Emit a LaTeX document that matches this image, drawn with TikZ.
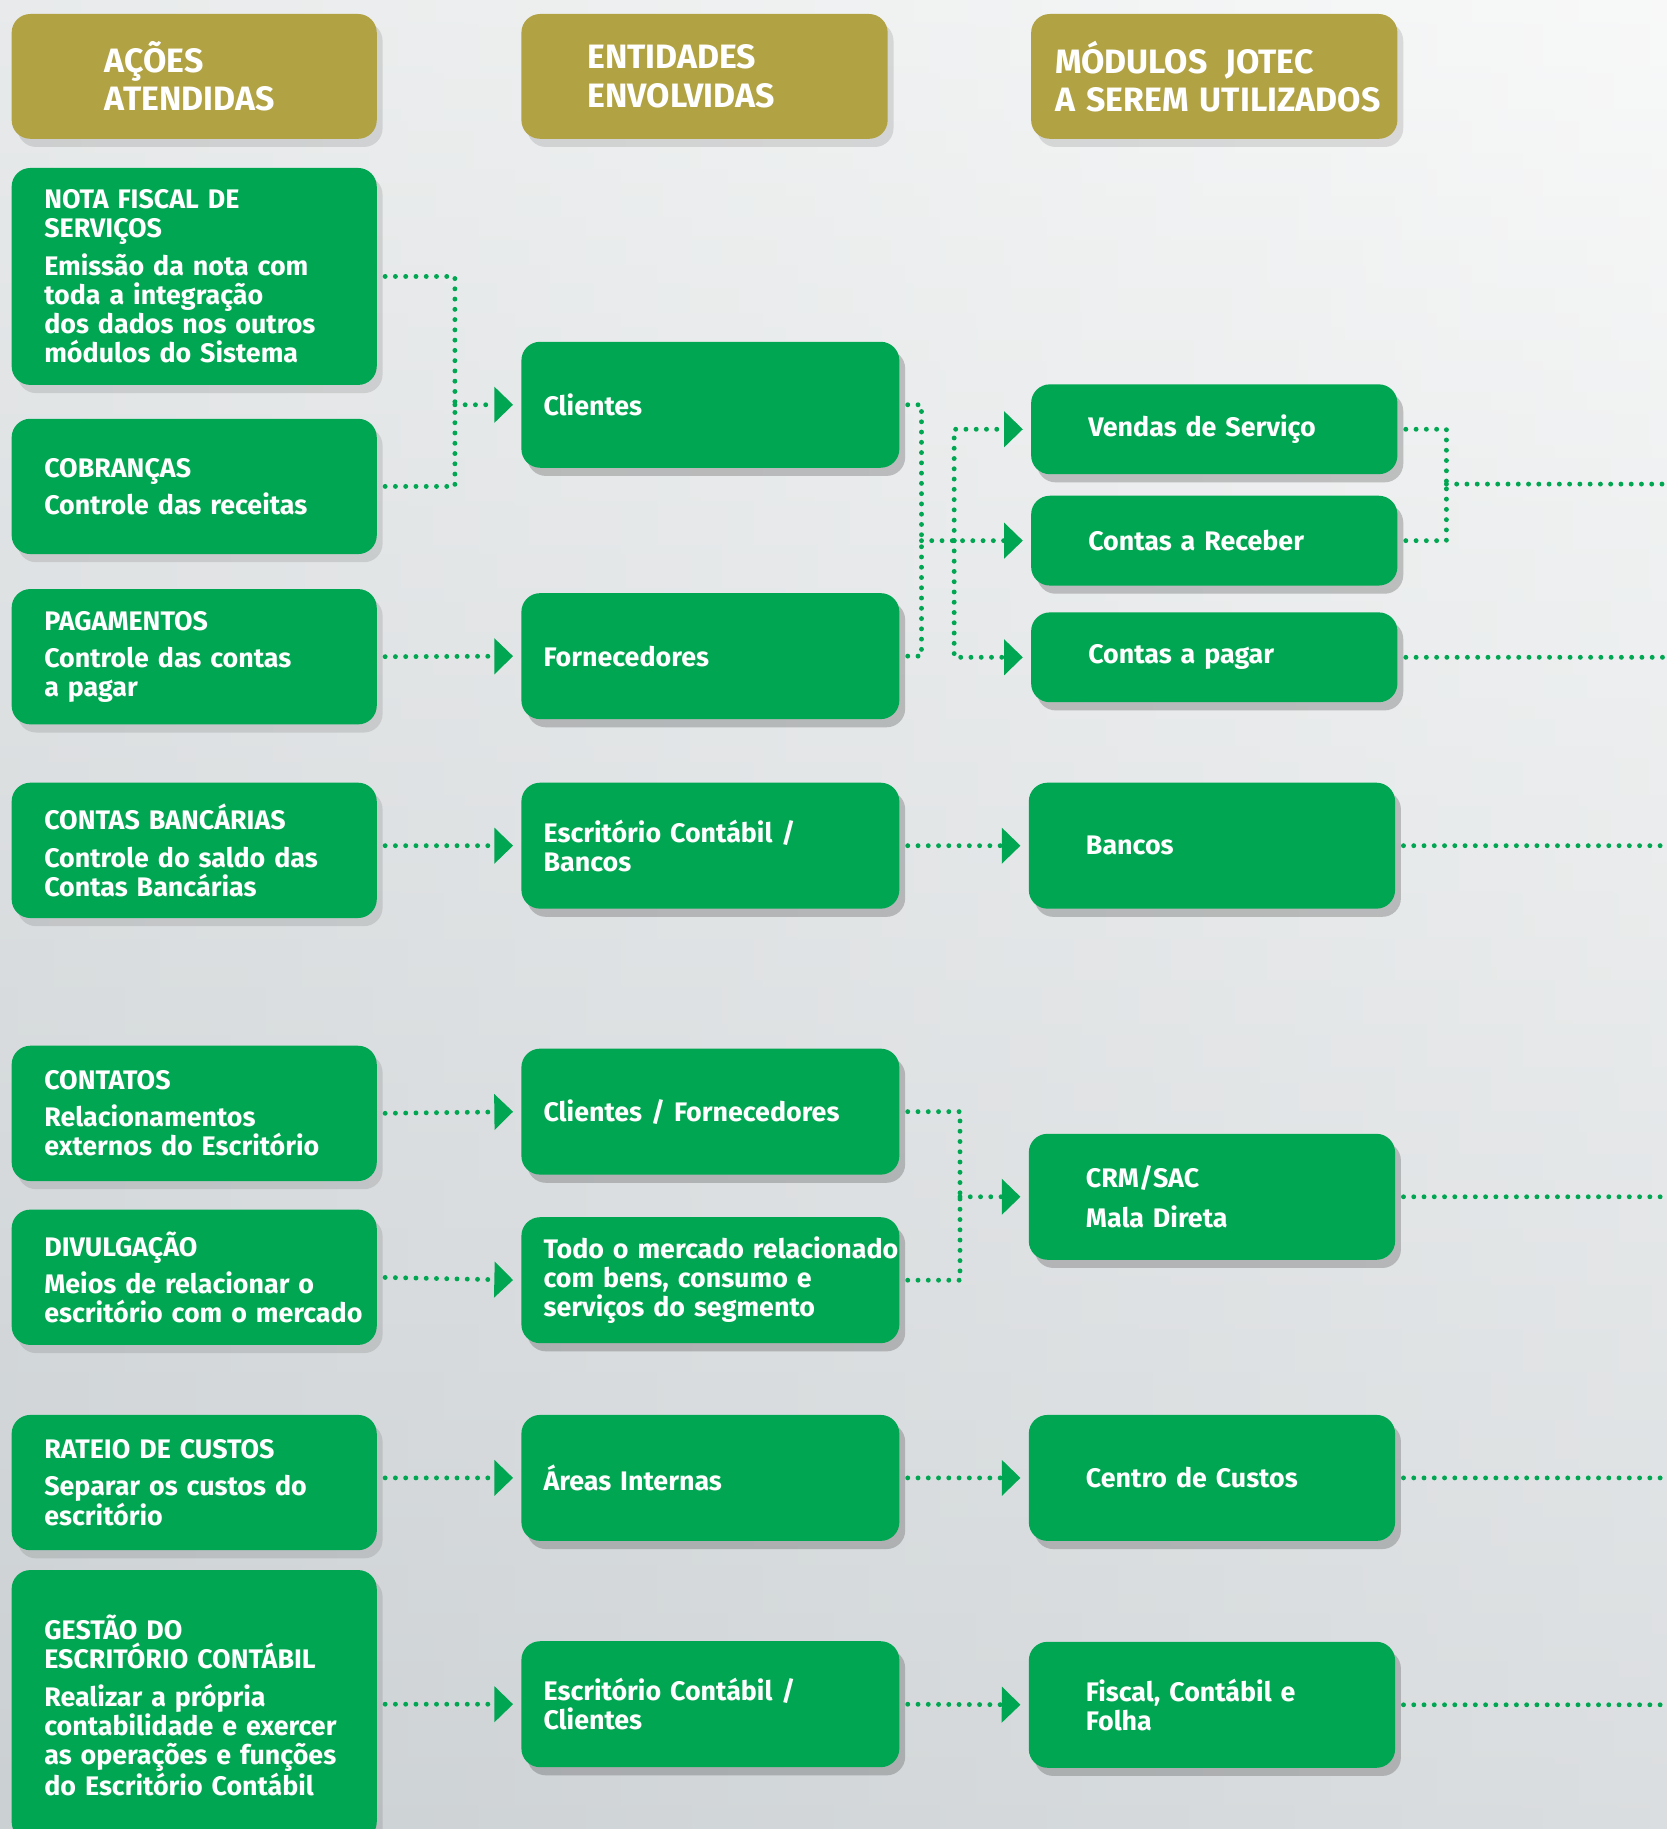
\documentclass[tikz,border=0pt]{standalone}
\usepackage{fontspec}
\setmainfont{Fira Sans}
\usetikzlibrary{arrows.meta,shadows}
\definecolor{jgreen}{HTML}{00A651}
\definecolor{jgold}{HTML}{B1A244}
\definecolor{bgtop}{HTML}{F5F6F6}
\definecolor{bgmid}{HTML}{E2E5E6}
\definecolor{bgbot}{HTML}{CBD0D3}
\hyphenpenalty=10000

\begin{document}
\begin{tikzpicture}[
    x=1pt, y=-1pt,
    boxshadow/.style={drop shadow={shadow xshift=5pt, shadow yshift=-7pt,
                      opacity=.16, fill=black!70}},
    card/.style={rectangle, rounded corners=16pt, text=white, boxshadow, inner xsep=5pt,
                 align=left, execute at begin node={\leftskip=#1\rightskip=-40pt plus 1fil}},
    head/.style={card=#1, fill=jgold, minimum width=313pt, minimum height=107pt,
                 text width=303pt, font=\bfseries\fontsize{29}{33}\selectfont},
    act/.style={card=23pt, fill=jgreen, minimum width=313pt, minimum height=116pt,
                text width=303pt, font=\bfseries\fontsize{23}{25}\selectfont},
    ent/.style={act, card=14pt, minimum width=324pt, minimum height=108pt, text width=314pt},
    modl/.style={act, card=44pt, minimum width=314pt, minimum height=77pt, text width=304pt},
    dots/.style={jgreen, line width=4.2pt, line cap=round, dash pattern=on 0pt off 8.8pt},
    gap/.style={shorten <=7pt},
    dotarr/.style={dots, -{Triangle[length=16pt, width=31pt, line width=0pt]}, shorten >=7pt}
]
\path[use as bounding box] (0,0) rectangle (1429,1568);
\clip (0,0) rectangle (1429,1568);
\shade[top color=bgtop, middle color=bgmid, bottom color=bgbot] (0,0) rectangle (1429,1568);
\shade[left color=bgbot, right color=white, opacity=.3] (0,0) rectangle (1429,1568);

% headers
\node[head=75pt] (hact) at (166.5,65.5) {AÇÕES\\ATENDIDAS};
\node[head=51pt, minimum width=314pt] (hent) at (604,65.5) {ENTIDADES\\ENVOLVIDAS};
\node[head=15pt, minimum width=314pt] (hmod) at (1041,65.5) {MÓDULOS\hspace{6pt} JOTEC\\A SEREM UTILIZADOS};

% acoes
\node[act, minimum height=186pt] (nota) at (166.5,237)
    {NOTA FISCAL DE\\SERVIÇOS\\[7pt]Emissão da nota com\\toda a integração\\dos dados nos outros\\módulos do Sistema};
\node[act] (cobr) at (166.5,417) {COBRANÇAS\\[7pt]Controle das receitas};
\node[act] (pag) at (166.5,563) {PAGAMENTOS\\[7pt]Controle das contas\\a pagar};
\node[act] (cban) at (166.5,729) {CONTAS BANCÁRIAS\\[7pt]Controle do saldo das\\Contas Bancárias};
\node[act] (cont) at (166.5,954.5) {CONTATOS\\[7pt]Relacionamentos\\externos do Escritório};
\node[act] (divul) at (166.5,1095) {DIVULGAÇÃO\\[7pt]Meios de relacionar o\\escritório com o mercado};
\node[act] (rat) at (166.5,1271) {RATEIO DE CUSTOS\\[7pt]Separar os custos do\\escritório};
\node[act, minimum height=232pt] (gest) at (166.5,1462)
    {GESTÃO DO\\ESCRITÓRIO CONTÁBIL\\[7pt]Realizar a própria\\contabilidade e exercer\\as operações e funções\\do Escritório Contábil};

% entidades
\node[ent] (cli) at (609,347) {Clientes};
\node[ent] (forn) at (609,562.5) {Fornecedores};
\node[ent] (escb) at (609,725) {Escritório Contábil /\\Bancos};
\node[ent] (clif) at (609,953) {Clientes / Fornecedores};
\node[ent] (merc) at (609,1097.5) {Todo o mercado relacionado\\com bens, consumo e\\serviços do segmento};
\node[ent] (area) at (609,1267) {Áreas Internas};
\node[ent] (escc) at (609,1461) {Escritório Contábil /\\Clientes};

% modulos
\node[modl] (vend) at (1041,368) {Vendas de Serviço};
\node[modl] (crec) at (1041,463.5) {Contas a Receber};
\node[modl] (cpag) at (1041,563.5) {Contas a pagar};
\node[modl, minimum height=108pt] (banco) at (1039,725) {Bancos};
\node[modl, minimum height=108pt] (crm) at (1039,1026) {CRM/SAC\\[9pt]Mala Direta};
\node[modl, minimum height=108pt] (ccus) at (1039,1267) {Centro de Custos};
\node[modl, minimum height=108pt] (fisc) at (1039,1461.5) {Fiscal, Contábil e\\Folha};

\coordinate (j1) at (390,347);
\coordinate (j2) at (790,463.5);
\coordinate (j3) at (818,463.5);
\coordinate (j4) at (1240,415);
\coordinate (j5) at (823,1026);
\coordinate (edge) at (1429,0);

% ligacoes
\draw[dots, gap] (nota.east) -| (j1);
\draw[dots, gap] (cobr.east) -| (j1);
\draw[dotarr] (j1) -- (cli.west);
\draw[dotarr, gap] (pag.east) -- (forn.west);
\draw[dotarr, gap] (escb.west -| cban.east) -- (escb.west);
\draw[dotarr, gap] (cont.east) -- (clif.west);
\draw[dotarr, gap] (divul.east) -- (merc.west);
\draw[dotarr, gap] (area.west -| rat.east) -- (area.west);
\draw[dotarr, gap] (escc.west -| gest.east) -- (escc.west);

\draw[dots, gap] (cli.east) -| (j2);
\draw[dots, gap] (forn.east) -| (j2);
\draw[dotarr] (j2) -- (crec.west);
\draw[dotarr] (j3) |- (vend.west);
\draw[dotarr] (j3) |- (cpag.west);
\draw[dotarr, gap] (escb.east) -- (banco.west);
\draw[dots, gap] (clif.east) -| (j5);
\draw[dots, gap] (merc.east) -| (j5);
\draw[dotarr] (j5) -- (crm.west);
\draw[dotarr, gap] (area.east) -- (ccus.west);
\draw[dotarr, gap] (escc.east) -- (fisc.west);

\draw[dots, gap] (vend.east) -| (j4);
\draw[dots, gap] (crec.east) -| (j4);
\draw[dots] (j4) -- (j4 -| edge);
\draw[dots, gap] (cpag.east) -- (cpag.east -| edge);
\draw[dots, gap] (banco.east) -- (banco.east -| edge);
\draw[dots, gap] (crm.east) -- (crm.east -| edge);
\draw[dots, gap] (ccus.east) -- (ccus.east -| edge);
\draw[dots, gap] (fisc.east) -- (fisc.east -| edge);
\end{tikzpicture}
\end{document}
